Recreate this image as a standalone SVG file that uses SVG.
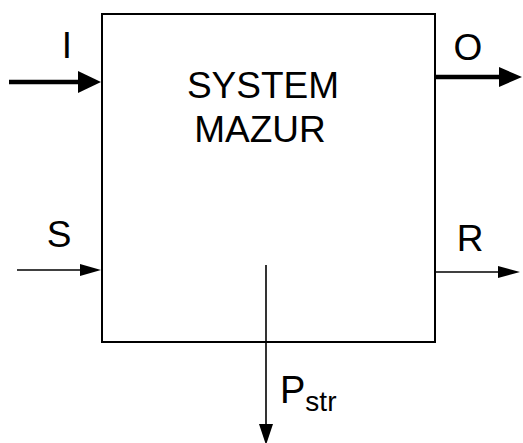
<svg xmlns="http://www.w3.org/2000/svg" width="523" height="443" viewBox="0 0 523 443">
<style>
text{font-family:"Liberation Sans",Arial,sans-serif;fill:#000}
.lbl{font-size:37px}
.box{fill:#fff;stroke:#000;stroke-width:2}
.thick{stroke:#000;stroke-width:4.5;fill:none}
.thin{stroke:#000;stroke-width:1.6;fill:none}
.head{fill:#000}
</style>
<rect width="523" height="443" fill="#fff"/>
<g id="system">
<rect class="box" x="102" y="14" width="333" height="328"/>
<text class="lbl" x="263" y="98" text-anchor="middle">SYSTEM</text>
<text class="lbl" x="260" y="142" text-anchor="middle">MAZUR</text>
</g>
<g id="connectors">
<g id="in-I">
<line class="thick" x1="9" y1="82" x2="84" y2="82"/>
<polygon class="head" points="78,71 101,82 78,93"/>
<text class="lbl" x="67" y="58" text-anchor="middle">I</text>
</g>
<g id="out-O">
<line class="thick" x1="435" y1="77" x2="505" y2="77"/>
<polygon class="head" points="499,67 522,77 499,87"/>
<text class="lbl" x="468" y="60" text-anchor="middle">O</text>
</g>
<g id="in-S">
<line class="thin" x1="17" y1="270" x2="86" y2="270"/>
<polygon class="head" points="80,264 101,270 80,276"/>
<text class="lbl" x="59" y="247" text-anchor="middle">S</text>
</g>
<g id="out-R">
<line class="thin" x1="435" y1="272" x2="504" y2="272"/>
<polygon class="head" points="498,266 520,272 498,278"/>
<text class="lbl" x="470" y="251" text-anchor="middle">R</text>
</g>
<g id="out-Pstr">
<line class="thin" x1="266" y1="265" x2="266" y2="430"/>
<polygon class="head" points="259,424 273,424 266,445"/>
<text x="280" y="403"><tspan font-size="38px">P</tspan><tspan font-size="28px" dy="8">str</tspan></text>
</g>
</g>
</svg>
